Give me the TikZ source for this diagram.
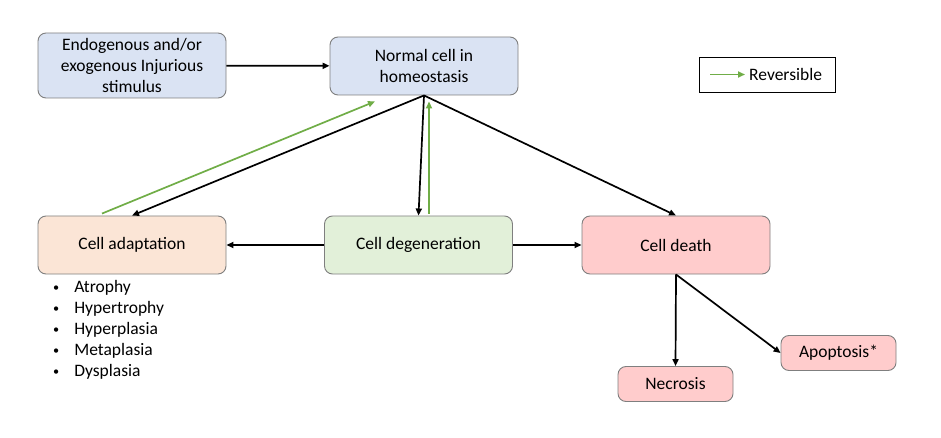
\documentclass[tikz,border=0pt]{standalone}
\usepackage{fontspec}
\setmainfont{Carlito}
\usetikzlibrary{arrows.meta, positioning}

\definecolor{stimblue}{HTML}{DAE3F3}
\definecolor{adaptpeach}{HTML}{FBE5D6}
\definecolor{degengreen}{HTML}{E2F0D9}
\definecolor{deathpink}{HTML}{FFCCCC}
\definecolor{edgegray}{HTML}{7F7F7F}
\definecolor{revgreen}{HTML}{70AD47}

\newcommand{\listdot}{\raisebox{1.6pt}{\scalebox{0.7}{\textbullet}}}

\begin{document}
\begin{tikzpicture}[
		x=1pt, y=-1pt,
		font=\fontsize{17.5}{21}\selectfont,
		state/.style={rectangle, rounded corners=8pt, draw=edgegray, line width=0.9pt, minimum width=188pt, minimum height=58pt, text centered, align=center},
		small/.style={state, minimum width=115pt, minimum height=35pt},
		link/.style={-{Triangle[length=7pt, width=6pt]}, line width=1.7pt},
		rev/.style={link, revgreen}
		]
		\useasboundingbox (0,0) rectangle (941,438);
		
		% Nodes
		\node (stim) [state, fill=stimblue, minimum height=65pt] at (132,65.5) {Endogenous and/or\\exogenous Injurious\\stimulus};
		\node (normal) [state, fill=stimblue] at (424,66) {Normal cell in\\homeostasis};
		\node (adapt) [state, fill=adaptpeach] at (132,245) {Cell adaptation};
		\node (degen) [state, fill=degengreen] at (418.5,245) {Cell degeneration};
		\node (death) [state, fill=deathpink] at (676,245) {Cell death};
		\node (necrosis) [small, fill=deathpink] at (675.5,384) {Necrosis};
		\node (apoptosis) [small, fill=deathpink] at (838.5,353) {Apoptosis*};
		\node (adaptlist) [anchor=north west, inner sep=0pt, align=left] at (53,278) {%
			\begin{tabular}{@{}l@{\hspace{15pt}}l@{}}
				\listdot & Atrophy\\
				\listdot & Hypertrophy\\
				\listdot & Hyperplasia\\
				\listdot & Metaplasia\\
				\listdot & Dysplasia
			\end{tabular}};
		
		% Legend
		\node (legend) [draw, line width=0.7pt, minimum width=136pt, minimum height=35pt] at (767,74.5) {};
		\coordinate (revstart) at (710,74.5);
		\coordinate (revend) at (745,74.5);
		\node (revtext) [right=4pt of revend, inner sep=0pt] {Reversible};
		\draw [rev] (revstart) -- (revend);
		
		% Arrows
		\draw [link] (stim) -- (normal);
		\draw [link] (normal.south) -- (adapt.north);
		\draw [link] (normal.south) -- (degen.north);
		\draw [link] (normal.south) -- (death.north);
		\draw [link] (degen) -- (adapt);
		\draw [link] (degen) -- (death);
		\draw [link] (death.south) -- (necrosis.north);
		\draw [link] (death.south) -- (apoptosis.west);
		\draw [rev] ([shift={(-30,-2)}]adapt.north) -- ([shift={(-49,6)}]normal.south);
		\draw [rev] ([shift={(10.5,-2)}]degen.north) -- ([shift={(5,6)}]normal.south);
		
	\end{tikzpicture}
\end{document}
